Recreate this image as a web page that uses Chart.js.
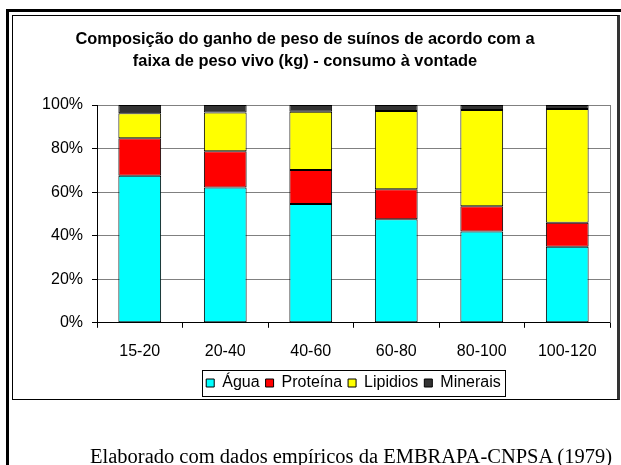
<!DOCTYPE html>
<html>
<head>
<meta charset="utf-8">
<script src="https://cdn.jsdelivr.net/npm/chart.js@4/dist/chart.umd.min.js"></script>
<style>
  html, body { margin: 0; padding: 0; background: #fff; overflow: hidden; }
  #wrap { position: relative; width: 621px; height: 465px; overflow: hidden; }
  #chart { position: absolute; left: 0; top: 0; }
  .outer-top { position: absolute; left: 6px; top: 9px; width: 615px; height: 3px; background: #000; }
  .outer-left { position: absolute; left: 6px; top: 9px; width: 3px; height: 456px; background: #000; }
  .inner-box { position: absolute; left: 12px; top: 15px; width: 604px; height: 383px;
               border-top: 1px solid #000; border-left: 1px solid #000; border-bottom: 1px solid #000;
               border-right: 3px solid #333; }
  #caption { position: absolute; left: 90px; top: 446px; white-space: nowrap; line-height: 21px;
             font-family: "Liberation Serif", "Times New Roman", serif; font-size: 20.5px; color: #000; }
</style>
</head>
<body>
<div id="wrap">
  <div class="outer-top"></div>
  <div class="outer-left"></div>
  <div class="inner-box"></div>
  <canvas id="chart" width="621" height="465"></canvas>
  <div id="caption">Elaborado com dados empíricos da EMBRAPA-CNPSA (1979)</div>
</div>
<script>
// Faixas de peso vivo (kg)
const faixas = ['15-20', '20-40', '40-60', '60-80', '80-100', '100-120'];

// Composição do ganho de peso (% do total)
const agua     = [67.5, 62.1, 54.6, 47.6, 41.9, 34.9];
const proteina = [17.2, 16.7, 15.6, 13.7, 11.6, 11.0];
const lipidios = [11.5, 17.7, 26.7, 35.9, 44.2, 52.3];
const minerais = [3.8, 3.5, 3.1, 2.8, 2.3, 1.8];

const tituloLinhas = [
  'Composição do ganho de peso de suínos de acordo com a',
  'faixa de peso vivo (kg) - consumo à vontade'
];

const FONTE = '"Liberation Sans", Arial, sans-serif';

// Borda cinza à direita da área de plotagem e moldura da legenda
const extras = {
  id: 'extras',
  afterDraw(chart) {
    const ctx = chart.ctx;
    const a = chart.chartArea;
    ctx.save();
    ctx.strokeStyle = '#808080';
    ctx.lineWidth = 1;
    ctx.beginPath();
    ctx.moveTo(Math.round(a.right) + 0.5, a.top);
    ctx.lineTo(Math.round(a.right) + 0.5, a.bottom);
    ctx.stroke();

    const lg = chart.legend;
    if (lg && lg.legendHitBoxes && lg.legendHitBoxes.length) {
      const hb = lg.legendHitBoxes;
      const l = Math.min(...hb.map(h => h.left)) - 4;
      const r = Math.max(...hb.map(h => h.left + h.width)) + 4;
      const t = Math.min(...hb.map(h => h.top)) - 5;
      const b = Math.max(...hb.map(h => h.top + h.height)) + 5;
      ctx.strokeStyle = '#000';
      ctx.strokeRect(Math.round(l) + 0.5, Math.round(t) + 0.5, Math.round(r - l), Math.round(b - t));
    }
    ctx.restore();
  }
};

const mk = (label, data, color) => ({
  label, data,
  backgroundColor: color,
  borderColor: '#000',
  borderWidth: 1,
  borderSkipped: false,
  categoryPercentage: 1.0,
  barPercentage: 0.5
});

new Chart(document.getElementById('chart'), {
  type: 'bar',
  data: {
    labels: faixas,
    datasets: [
      mk('Água', agua, '#00FFFF'),
      mk('Proteína', proteina, '#FF0000'),
      mk('Lipidios', lipidios, '#FFFF00'),
      mk('Minerais', minerais, '#333333')
    ]
  },
  options: {
    responsive: false,
    animation: false,
    devicePixelRatio: 1,
    layout: { padding: { left: 0, right: 11, top: 0, bottom: 64 } },
    plugins: {
      tooltip: { enabled: false },
      title: {
        display: true,
        text: tituloLinhas,
        color: '#000',
        font: { family: FONTE, size: 16.4, weight: 'bold', lineHeight: 22 / 16.4 },
        padding: { top: 28, bottom: 33 }
      },
      legend: {
        display: true,
        position: 'bottom',
        fullSize: false,
        labels: {
          color: '#000',
          font: { family: FONTE, size: 16 },
          boxWidth: 8,
          boxHeight: 8,
          padding: 6,
          useBorderRadius: false
        }
      }
    },
    scales: {
      x: {
        stacked: true,
        offset: true,
        afterFit(scale) { scale.height -= 6; },
        grid: {
          offset: true,
          drawOnChartArea: false,
          drawTicks: true,
          tickLength: 5,
          color: '#000'
        },
        border: { display: true, color: '#000', width: 1 },
        ticks: { color: '#000', font: { family: FONTE, size: 16 }, padding: 14, maxRotation: 0 }
      },
      y: {
        stacked: true,
        min: 0,
        max: 100,
        afterFit(scale) { scale.width = 97; },
        grid: { color: '#808080', tickColor: '#000', tickLength: 5, lineWidth: 1 },
        border: { display: true, color: '#000', width: 1 },
        ticks: {
          stepSize: 20,
          color: '#000',
          padding: 9,
          font: { family: FONTE, size: 16 },
          callback: v => v + '%'
        }
      }
    }
  },
  plugins: [extras]
});
</script>
</body>
</html>
